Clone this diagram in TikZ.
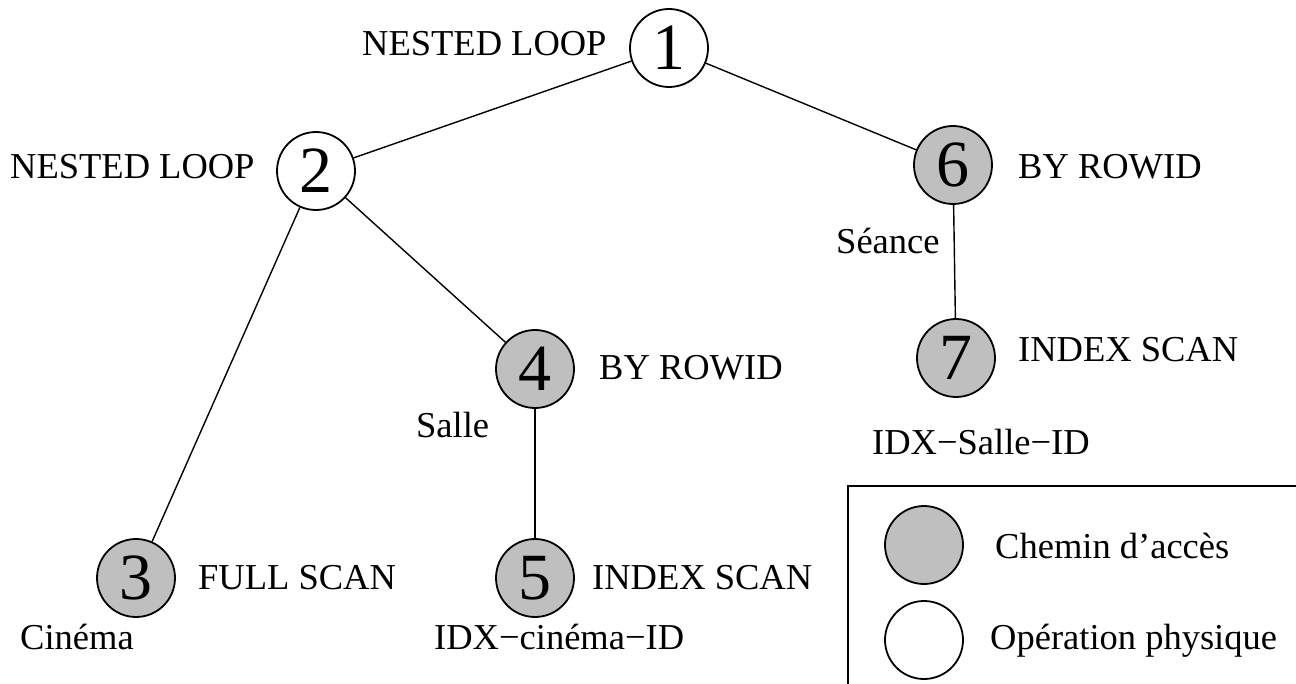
\documentclass[tikz,border=0pt]{standalone}
\usepackage{fontspec}
\setmainfont{Liberation Serif}
\begin{document}
\begin{tikzpicture}[x=1pt,y=-1pt,
  opnode/.style={circle,draw=black,line width=1.8pt,minimum size=78pt,inner sep=0pt,font=\fontsize{66}{66}\selectfont},
  accnode/.style={opnode,fill=gray!50},
  edge/.style={line width=1.4pt},
  lbl/.style={anchor=west,inner sep=0pt,font=\fontsize{36.5}{36.5}\selectfont}]
\useasboundingbox (0,0) rectangle (1296,684);
% tree nodes
\node[opnode]  (n1) at (669,48) {1};
\node[opnode]  (n2) at (316,171) {2};
\node[accnode] (n6) at (953,165) {6};
\node[accnode] (n4) at (535,369) {4};
\node[accnode] (n7) at (956,358) {7};
\node[accnode] (n3) at (136,578) {3};
\node[accnode] (n5) at (535,578) {5};
% connectors
\draw[edge] (n1) -- (n2);
\draw[edge] (n1) -- (n6);
\draw[edge] (n2) -- (n3);
\draw[edge] (n2) -- (n4);
\draw[edge] (n4) -- (n5);
\draw[edge] (n6) -- (n7);
% operation labels
\node[lbl] (t1) at (362,44) {NESTED LOOP};
\node[lbl] (t2) at (10,167) {NESTED LOOP};
\node[lbl] (t6) at (1018,167) {BY ROWID};
\node[lbl] (t4) at (599,368) {BY ROWID};
\node[lbl] (t7) at (1018,350) {INDEX SCAN};
\node[lbl] (t3) at (198,578) {FULL SCAN};
\node[lbl] (t5) at (592,578) {INDEX SCAN};
% table and index names
\node[lbl] (s6) at (836,241) {Séance};
\node[lbl] (s4) at (416,425) {Salle};
\node[lbl] (s7) at (872,442) {IDX−Salle−ID};
\node[lbl] (s3) at (20,637) {Cinéma};
\node[lbl] (s5) at (434,637) {IDX−cinéma−ID};
% legend
\draw[line width=1.4pt] (848,700) -- (848,486) -- (1310,486);
\node[accnode] (la) at (924,545) {};
\node[opnode]  (lb) at (924,640) {};
\node[lbl] (ta) at (995,546) {Chemin d’accès};
\node[lbl] (tb) at (990,641) {Opération physique};
\end{tikzpicture}
\end{document}
